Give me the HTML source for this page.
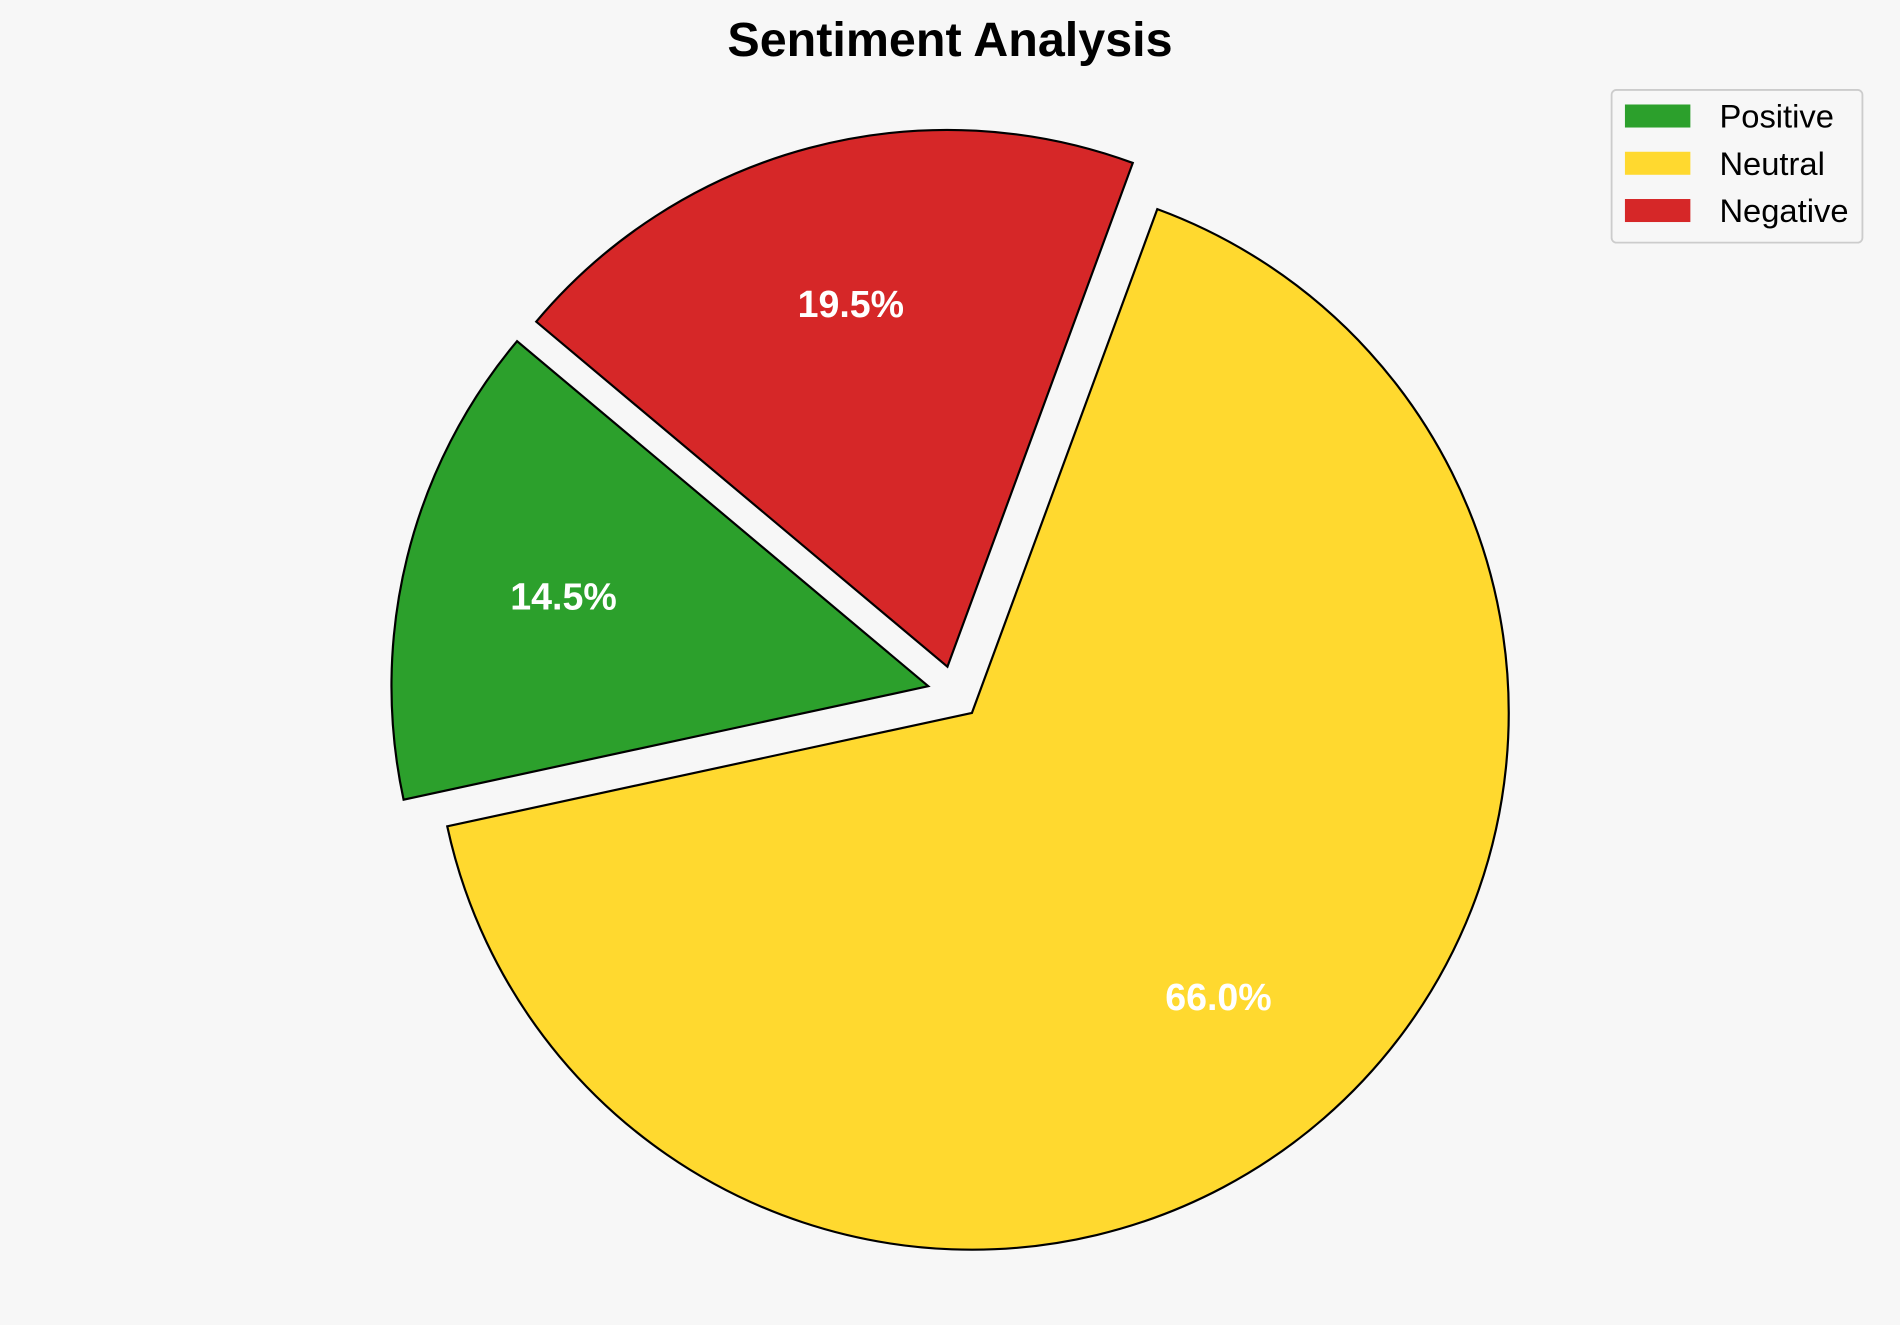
<!DOCTYPE html>
<html><head><meta charset="utf-8"><style>
html,body{margin:0;padding:0;background:#f7f7f7;}
svg{display:block;font-family:"Liberation Sans",Arial,sans-serif;}
</style></head><body>
<svg id="chart" width="1900" height="1325" viewBox="0 0 1568 1093">
<rect x="0" y="0" width="1568" height="1093" fill="#f7f7f7"/>
<text x="784" y="46" text-anchor="middle" font-size="40" font-weight="bold" fill="#000">Sentiment Analysis</text>
<g id="slices"></g>
<g id="legend"></g>
</svg>
<script>
const labels = ["Positive", "Neutral", "Negative"];
const values = [14.5, 66.0, 19.5];
const colors = ["#2ca02c", "#ffd92f", "#d62728"];
const explode = [0.05, 0.05, 0.05];

const NS = "http://www.w3.org/2000/svg";
const cx = 802 - 22*0.656, cy = 588 - 22*0.755, R = 443, startAngle = 140;
const total = values.reduce((a,b)=>a+b,0);
const g = document.getElementById('slices');
let a0 = startAngle;
values.forEach((v,i)=>{
  const sweep = v/total*360;
  const a1 = a0 + sweep, mid = (a0+a1)/2*Math.PI/180;
  const ox = cx + explode[i]*R*Math.cos(mid), oy = cy - explode[i]*R*Math.sin(mid);
  const r0 = a0*Math.PI/180, r1 = a1*Math.PI/180;
  const x0 = ox + R*Math.cos(r0), y0 = oy - R*Math.sin(r0);
  const x1 = ox + R*Math.cos(r1), y1 = oy - R*Math.sin(r1);
  const p = document.createElementNS(NS,'path');
  p.setAttribute('d',`M${ox},${oy} L${x0},${y0} A${R},${R} 0 ${sweep>180?1:0} 0 ${x1},${y1} Z`);
  p.setAttribute('fill',colors[i]);
  p.setAttribute('stroke','#000');
  p.setAttribute('stroke-width','1.8');
  p.setAttribute('stroke-linejoin','miter');
  
  
  g.appendChild(p);
  const t = document.createElementNS(NS,'text');
  t.setAttribute('x', ox + 0.7*R*Math.cos(mid));
  t.setAttribute('y', oy - 0.7*R*Math.sin(mid) + 11);
  t.setAttribute('text-anchor','middle');
  t.setAttribute('font-size','31');
  t.setAttribute('font-weight','bold');
  t.setAttribute('fill','#fff');
  t.textContent = v.toFixed(1) + '%';
  
  
  g.appendChild(t);
  a0 = a1;
});
const lg = document.getElementById('legend');
const box = document.createElementNS(NS,'rect');
box.setAttribute('x',1330); box.setAttribute('y',74); box.setAttribute('width',207); box.setAttribute('height',126);
box.setAttribute('rx',4); box.setAttribute('fill','#f7f7f7'); box.setAttribute('stroke','#ccc'); box.setAttribute('stroke-width','1.5');


lg.appendChild(box);
labels.forEach((l,i)=>{
  const y = 95 + i*39;
  const r = document.createElementNS(NS,'rect');
  r.setAttribute('x',1341); r.setAttribute('y',y-9); r.setAttribute('width',54); r.setAttribute('height',19);
  r.setAttribute('fill',colors[i]);
  
  
  lg.appendChild(r);
  const t = document.createElementNS(NS,'text');
  t.setAttribute('x',1419); t.setAttribute('y',y+10); t.setAttribute('font-size','27'); t.setAttribute('fill','#000');
  t.textContent = l;
  
  
  lg.appendChild(t);
});
</script>
</body></html>
